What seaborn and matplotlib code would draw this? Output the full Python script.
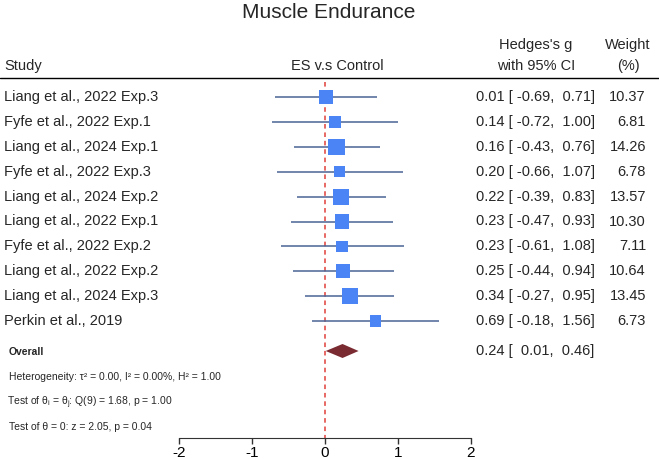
import numpy as np
import pandas as pd
import matplotlib
matplotlib.use("Agg")
import matplotlib.pyplot as plt
import seaborn as sns

# data
studies = ["Liang et al., 2022 Exp.3", "Fyfe et al., 2022 Exp.1", "Liang et al., 2024 Exp.1",
           "Fyfe et al., 2022 Exp.3", "Liang et al., 2024 Exp.2", "Liang et al., 2022 Exp.1",
           "Fyfe et al., 2022 Exp.2", "Liang et al., 2022 Exp.2", "Liang et al., 2024 Exp.3",
           "Perkin et al., 2019"]
es = [0.01, 0.14, 0.16, 0.20, 0.22, 0.23, 0.23, 0.25, 0.34, 0.69]
ci_lo = [-0.69, -0.72, -0.43, -0.66, -0.39, -0.47, -0.61, -0.44, -0.27, -0.18]
ci_hi = [0.71, 1.00, 0.76, 1.07, 0.83, 0.93, 1.08, 0.94, 0.95, 1.56]
weights = [10.37, 6.81, 14.26, 6.78, 13.57, 10.30, 7.11, 10.64, 13.45, 6.73]
overall = (0.24, 0.01, 0.46)
stats_lines = [r"Heterogeneity: τ² = 0.00, I² = 0.00%, H² = 1.00",
               r"Test of θ$_\mathregular{i}$ = θ$_\mathregular{j}$: Q(9) = 1.68, p = 1.00",
               r"Test of θ = 0: z = 2.05, p = 0.04"]
xticks = [-2, -1, 0, 1, 2]

sns.set_style("white")
plt.rcParams["font.family"] = ["Liberation Sans", "DejaVu Sans"]

W, H = 659, 459
fig = plt.figure(figsize=(W / 100, H / 100), dpi=100)
ax_bottom = 438
ax = fig.add_axes([0, (H - ax_bottom) / H, 1, ax_bottom / H])

unit = 72.95  # pixels per effect-size unit
x0 = 325      # pixel of zero
def px(p):
    return (p - x0) / unit

ax.set_xlim(px(0), px(W))
ax.set_ylim(ax_bottom, 0)

row0, step = 97, 24.9
df = pd.DataFrame({"study": studies, "es": es, "lo": ci_lo, "hi": ci_hi, "w": weights})
df["y"] = row0 + np.arange(len(df)) * step

# reference line
ax.vlines(0, 82, ax_bottom, colors="#e0403a", linestyles=(0, (3, 2.5)), lw=1.1, zorder=1)

# CIs and squares
ax.hlines(df["y"], df["lo"], df["hi"], colors="#4a6594", lw=1.1, zorder=2)
sns.scatterplot(data=df, x="es", y="y", size="w", sizes=(min(weights) * 10, max(weights) * 10),
                size_norm=(min(weights), max(weights)), marker="s", color="#4b84f4",
                edgecolor="none", legend=False, ax=ax, zorder=3)

# overall diamond
y_ov = 351
oes, olo, ohi = overall
ax.fill([olo, oes, ohi, oes], [y_ov, y_ov - 7, y_ov, y_ov + 7], color="#7a2a31", lw=0, zorder=3)

# text columns
for _, r in df.iterrows():
    ax.text(px(4), r["y"], r["study"], fontsize=10.5, va="center", ha="left")
    ax.text(px(476), r["y"], f"{r['es']:.2f} [{r['lo']:6.2f}, {r['hi']:5.2f}]",
            fontsize=10.5, va="center", ha="left")
    ax.text(px(646), r["y"], f"{r['w']:.2f}", fontsize=10.5, va="center", ha="right")

ax.text(px(476), y_ov, f"{oes:.2f} [  {olo:.2f}, {ohi:5.2f}]", fontsize=10.5, va="center", ha="left")
ax.text(px(9), y_ov + 3.8, "Overall", fontsize=7.5, fontweight="bold", va="baseline", ha="left")
for i, s in enumerate(stats_lines):
    xs = 7 if "$" in s else 9  # mathtext adds a little left padding
    ax.text(px(xs), 376 + i * 25 + 3.8, s, fontsize=7.5, va="baseline", ha="left")

# headers
ax.text(px(329), 12, "Muscle Endurance", fontsize=15, ha="center", va="center")
ax.text(px(4), 66, "Study", fontsize=10.5, va="center", ha="left")
ax.text(px(337), 66, "ES v.s Control", fontsize=10.5, va="center", ha="center")
ax.text(px(536), 45, "Hedges's g", fontsize=10.5, va="center", ha="center")
ax.text(px(536), 66, "with 95% CI", fontsize=10.5, va="center", ha="center")
ax.text(px(628), 45, "Weight", fontsize=10.5, va="center", ha="center")
ax.text(px(628), 66, "(%)", fontsize=10.5, va="center", ha="center")
ax.axhline(78, color="black", lw=1)

# axis
for s in ["top", "left", "right"]:
    ax.spines[s].set_visible(False)
ax.spines["bottom"].set_bounds(-2, 2)
ax.spines["bottom"].set_color("#333333")
ax.set_xticks(xticks)
ax.set_xticklabels([str(t) for t in xticks])
ax.tick_params(axis="x", bottom=True, direction="out", length=4, width=1, labelsize=11, pad=2,
               colors="#333333", labelcolor="black")
ax.set_yticks([])
ax.set_xlabel("")
ax.set_ylabel("")

fig.savefig("out.png", dpi=100)
